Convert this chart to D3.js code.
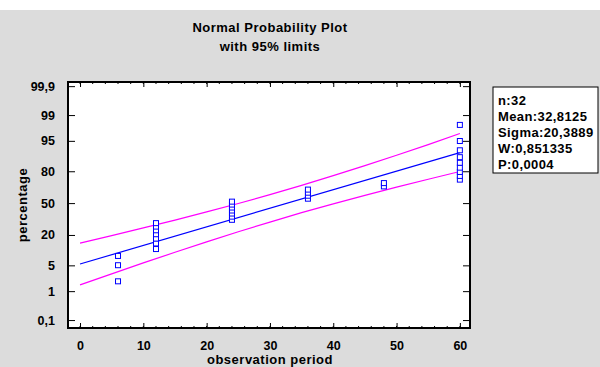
<!DOCTYPE html>
<html>
<head>
<meta charset="utf-8">
<script src="https://cdn.jsdelivr.net/npm/d3@7"></script>
<style>
  body { margin: 0; background: #fff; }
  svg { display: block; font-family: "Liberation Sans", Arial, sans-serif; font-weight: bold; }
</style>
</head>
<body>
<svg width="600" height="367"></svg>
<script>
// data
var xTicks = [0, 10, 20, 30, 40, 50, 60];
var yTickValues = [0.1, 1, 5, 20, 50, 80, 95, 99, 99.9];
var yTickLabels = ["0,1", "1", "5", "20", "50", "80", "95", "99", "99,9"];

var obsX = [6, 6, 6,
            12, 12, 12, 12, 12, 12, 12,
            24, 24, 24, 24, 24, 24, 24,
            36, 36, 36, 36,
            48, 48,
            60, 60, 60, 60, 60, 60, 60, 60, 60];
var obsPct = [1.94, 5.04, 8.14,
              11.24, 14.34, 17.44, 20.54, 23.64, 26.74, 29.84,
              32.95, 36.05, 39.15, 42.25, 45.35, 48.45, 51.55,
              54.65, 57.75, 60.85, 63.95,
              67.05, 70.16,
              73.26, 76.36, 79.46, 82.56, 85.66, 88.76, 91.86, 94.96, 98.06];

var fitX = [0, 60];
var fitPct = [5.38, 90.9];

var limitX = [0, 5, 10, 15, 20, 25, 30, 35, 40, 45, 50, 55, 60];
var upperPct = [14.5, 19.5, 25.6, 32.7, 40.8, 49.6, 58.9, 68.0, 76.6, 83.9, 89.7, 93.9, 96.7];
var lowerPct = [1.54, 3.08, 5.7, 9.69, 15.3, 22.45, 30.8, 40.0, 49.2, 58.1, 66.3, 73.6, 79.8];

var titleLines = ["Normal Probability Plot", "with 95% limits"];
var statsLines = ["n:32", "Mean:32,8125", "Sigma:20,3889", "W:0,851335", "P:0,0004"];

// inverse normal cdf (Acklam) for the probability axis
function probit(p) {
  var a = [-39.69683028665376, 220.9460984245205, -275.9285104469687, 138.3577518672690, -30.66479806614716, 2.506628277459239];
  var b = [-54.47609879822406, 161.5858368580409, -155.6989798598866, 66.80131188771972, -13.28068155288572];
  var c = [-0.007784894002430293, -0.3223964580411365, -2.400758277161838, -2.549732539343734, 4.374664141464968, 2.938163982698783];
  var d = [0.007784695709041462, 0.3224671290700398, 2.445134137142996, 3.754408661907416];
  var pl = 0.02425, q, r;
  if (p < pl) {
    q = Math.sqrt(-2 * Math.log(p));
    return (((((c[0]*q+c[1])*q+c[2])*q+c[3])*q+c[4])*q+c[5]) / ((((d[0]*q+d[1])*q+d[2])*q+d[3])*q+1);
  } else if (p <= 1 - pl) {
    q = p - 0.5; r = q * q;
    return (((((a[0]*r+a[1])*r+a[2])*r+a[3])*r+a[4])*r+a[5])*q / (((((b[0]*r+b[1])*r+b[2])*r+b[3])*r+b[4])*r+1);
  } else {
    q = Math.sqrt(-2 * Math.log(1 - p));
    return -(((((c[0]*q+c[1])*q+c[2])*q+c[3])*q+c[4])*q+c[5]) / ((((d[0]*q+d[1])*q+d[2])*q+d[3])*q+1);
  }
}

var svg = d3.select("svg");
var plot = { left: 68, right: 470, top: 82, bottom: 328 };

svg.append("rect").attr("x", 0).attr("y", 10).attr("width", 600).attr("height", 357).attr("fill", "#dcdcdc");

var x = d3.scaleLinear().domain([-1.9, 61.6]).range([plot.left, plot.right]);
var yz = d3.scaleLinear().domain([-3.3, 3.2]).range([plot.bottom, plot.top]);
var y = function(pct) { return yz(probit(pct / 100)); };

// plot area
svg.append("rect")
  .attr("x", plot.left).attr("y", plot.top)
  .attr("width", plot.right - plot.left).attr("height", plot.bottom - plot.top)
  .attr("fill", "white");

// title
svg.selectAll(".title")
  .data(titleLines)
  .enter().append("text")
  .attr("x", 270)
  .attr("y", function(d, i) { return 32 + i * 18.5; })
  .attr("text-anchor", "middle")
  .attr("font-size", 13)
  .attr("letter-spacing", 0.5)
  .text(function(d) { return d; });

// x axes (bottom labelled, top only ticks) - ticks point inward
var minorX = d3.range(0, 61, 2);
var gxB = svg.append("g").attr("transform", "translate(0," + plot.bottom + ")")
  .call(d3.axisBottom(x).tickValues(xTicks).tickSize(-5).tickPadding(13).tickFormat(d3.format("d")));
gxB.selectAll(".tick text").attr("font-size", 12.5).attr("font-family", null).attr("fill", "black");
gxB.append("g").selectAll("line").data(minorX).enter().append("line")
  .attr("x1", function(d) { return x(d); }).attr("x2", function(d) { return x(d); })
  .attr("y1", 0).attr("y2", -2).attr("stroke", "black");

var gxT = svg.append("g").attr("transform", "translate(0," + plot.top + ")")
  .call(d3.axisTop(x).tickValues(xTicks).tickSize(-5).tickFormat(""));
gxT.append("g").selectAll("line").data(minorX).enter().append("line")
  .attr("x1", function(d) { return x(d); }).attr("x2", function(d) { return x(d); })
  .attr("y1", 0).attr("y2", 2).attr("stroke", "black");

// y axes (left labelled, right only ticks)
var zTicks = yTickValues.map(function(p) { return probit(p / 100); });
var gyL = svg.append("g").attr("transform", "translate(" + plot.left + ",0)")
  .call(d3.axisLeft(yz).tickValues(zTicks).tickSize(-7).tickPadding(13)
    .tickFormat(function(d, i) { return yTickLabels[i]; }));
gyL.selectAll(".tick text").attr("font-size", 12.5).attr("font-family", null).attr("fill", "black");

svg.append("g").attr("transform", "translate(" + plot.right + ",0)")
  .call(d3.axisRight(yz).tickValues(zTicks).tickSize(-7).tickFormat(""));

svg.selectAll(".domain").remove();

// frame
svg.append("rect")
  .attr("x", plot.left).attr("y", plot.top)
  .attr("width", plot.right - plot.left).attr("height", plot.bottom - plot.top)
  .attr("fill", "none").attr("stroke", "black").attr("stroke-width", 2);

// limit lines and fitted line
var line = d3.line()
  .x(function(d) { return x(d[0]); })
  .y(function(d) { return y(d[1]); });

[upperPct, lowerPct].forEach(function(arr) {
  svg.append("path")
    .datum(limitX.map(function(v, i) { return [v, arr[i]]; }))
    .attr("d", line).attr("fill", "none").attr("stroke", "#ff00ff").attr("stroke-width", 1.2);
});

svg.append("path")
  .datum(fitX.map(function(v, i) { return [v, fitPct[i]]; }))
  .attr("d", line).attr("fill", "none").attr("stroke", "#0000ff").attr("stroke-width", 1.2);

// observations
svg.selectAll(".pt")
  .data(obsX)
  .enter().append("rect")
  .attr("class", "pt")
  .attr("x", function(d) { return x(d) - 2.5; })
  .attr("y", function(d, i) { return y(obsPct[i]) - 2.5; })
  .attr("width", 5).attr("height", 5)
  .attr("fill", "white").attr("stroke", "#0000ff").attr("stroke-width", 1);

// axis titles
svg.append("text")
  .attr("x", 270).attr("y", 364)
  .attr("text-anchor", "middle").attr("font-size", 13).attr("letter-spacing", 0.5)
  .text("observation period");

svg.append("text")
  .attr("transform", "translate(27," + (plot.top + plot.bottom) / 2 + ") rotate(-90)")
  .attr("text-anchor", "middle").attr("font-size", 13).attr("letter-spacing", 0.5)
  .text("percentage");

// stats box
svg.append("rect")
  .attr("x", 493).attr("y", 87).attr("width", 105).attr("height", 86)
  .attr("fill", "white").attr("stroke", "black").attr("stroke-width", 1);

svg.selectAll(".stat")
  .data(statsLines)
  .enter().append("text")
  .attr("x", 498)
  .attr("y", function(d, i) { return 105 + i * 16; })
  .attr("font-size", 13)
  .attr("letter-spacing", 0.4)
  .text(function(d) { return d; });
</script>
</body>
</html>
